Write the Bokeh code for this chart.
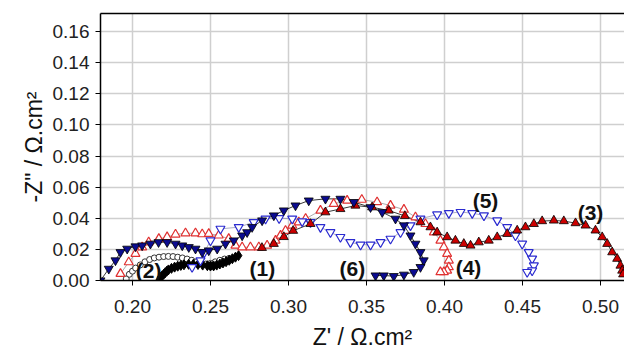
from bokeh.plotting import figure
from bokeh.models import Range1d, FixedTicker, NumeralTickFormatter, LinearAxis
from bokeh.core.properties import value
from bokeh.embed import file_html
from bokeh.resources import INLINE

# ---- data (Z' , -Z'') ----
s1_x = [0.217, 0.218, 0.219, 0.220, 0.221, 0.222, 0.223, 0.225, 0.227, 0.229, 0.231, 0.233, 0.236, 0.239, 0.242,
        0.245, 0.248, 0.250, 0.252, 0.254, 0.256, 0.258, 0.260, 0.262, 0.264, 0.266, 0.268]
s1_y = [0.000, 0.002, 0.003, 0.004, 0.005, 0.006, 0.0068, 0.0078, 0.0086, 0.0092, 0.0097, 0.0101, 0.0104, 0.0105, 0.0103,
        0.0099, 0.0095, 0.0093, 0.0094, 0.0099, 0.0106, 0.0113, 0.0121, 0.0130, 0.0140, 0.0150, 0.0160]

s2_x = [0.196, 0.198, 0.200, 0.202, 0.205, 0.208, 0.211, 0.214, 0.217, 0.220, 0.223, 0.226, 0.229, 0.232, 0.235,
        0.238, 0.241, 0.244, 0.247, 0.250, 0.253, 0.256, 0.259, 0.262]
s2_y = [0.001, 0.004, 0.006, 0.008, 0.010, 0.012, 0.0135, 0.0145, 0.015, 0.0154, 0.0155, 0.0154, 0.015, 0.0145, 0.0138,
        0.013, 0.012, 0.011, 0.0106, 0.011, 0.012, 0.013, 0.0138, 0.0142]

s3_x = [0.283, 0.2906, 0.297, 0.303, 0.3141, 0.3237, 0.3333, 0.3429, 0.3536, 0.3643, 0.3746, 0.3846, 0.391, 0.3953,
        0.4017, 0.407, 0.4124, 0.4167, 0.422, 0.4284, 0.4338, 0.4402, 0.4466, 0.4519, 0.4573, 0.4626, 0.4701, 0.4765,
        0.484, 0.4904, 0.4968, 0.5011, 0.5043, 0.5075, 0.5107, 0.5128, 0.5139, 0.5145]
s3_y = [0.021, 0.0236, 0.028, 0.032, 0.0364, 0.0439, 0.046, 0.0482, 0.0471, 0.045, 0.0415, 0.0375, 0.0343, 0.031,
        0.0279, 0.0257, 0.0236, 0.0225, 0.0246, 0.0257, 0.0279, 0.030, 0.0322, 0.0343, 0.0364, 0.0382, 0.0386, 0.0382,
        0.0369, 0.0354, 0.0322, 0.0279, 0.0236, 0.0182, 0.014, 0.0096, 0.0064, 0.004]

s4_x = [0.1923, 0.1976, 0.2019, 0.2062, 0.2104, 0.2169, 0.2222, 0.2276, 0.234, 0.2404, 0.2447, 0.2489, 0.2553,
        0.2617, 0.266, 0.2703, 0.2756, 0.281, 0.2863, 0.2917, 0.2949, 0.2981, 0.3024, 0.3066, 0.311, 0.3205, 0.329,
        0.3376, 0.347, 0.3568, 0.3654, 0.374, 0.3814, 0.3878, 0.3932, 0.3974, 0.3996, 0.4017, 0.4028, 0.4028, 0.4017,
        0.3996, 0.3974]
s4_y = [0.0043, 0.0118, 0.0172, 0.0214, 0.0246, 0.0268, 0.0279, 0.0296, 0.0304, 0.0304, 0.0298, 0.030, 0.029,
        0.0268, 0.0225, 0.0214, 0.0214, 0.0214, 0.0225, 0.0257, 0.0289, 0.032, 0.0354, 0.0375, 0.0397, 0.045, 0.0493,
        0.0514, 0.052, 0.0504, 0.0482, 0.0456, 0.0407, 0.0364, 0.031, 0.0257, 0.0214, 0.0172, 0.0129, 0.0086, 0.0064,
        0.0054, 0.0054]

s5_x = [0.2382, 0.2436, 0.246, 0.250, 0.2564, 0.2681, 0.2777, 0.2853, 0.294, 0.3024, 0.3088, 0.3141, 0.3205,
        0.3269, 0.3333, 0.3397, 0.3462, 0.3526, 0.359, 0.3654, 0.3718, 0.3782, 0.3846, 0.3953, 0.4028, 0.4103,
        0.4178, 0.4253, 0.4338, 0.4402, 0.4455, 0.4498, 0.454, 0.4562, 0.4573, 0.4562, 0.453]
s5_y = [0.0086, 0.0129, 0.018, 0.0257, 0.0332, 0.0343, 0.0375, 0.0397, 0.040, 0.0397, 0.0380, 0.0375, 0.0343,
        0.031, 0.0279, 0.0246, 0.023, 0.023, 0.0246, 0.0268, 0.031, 0.0354, 0.0397, 0.0424, 0.0433, 0.044,
        0.0433, 0.0418, 0.0386, 0.0343, 0.0289, 0.0236, 0.0182, 0.014, 0.0096, 0.0064, 0.0054]

s6_x = [0.1795, 0.1848, 0.1891, 0.1923, 0.1966, 0.2019, 0.2062, 0.2115, 0.2167, 0.2222, 0.2276, 0.2319, 0.2361,
        0.2404, 0.2447, 0.2489, 0.2543, 0.2596, 0.2649, 0.2703, 0.2735, 0.2767, 0.2831, 0.2906, 0.297, 0.3045,
        0.313, 0.3237, 0.3333, 0.3419, 0.3526, 0.3601, 0.3686, 0.374, 0.3782, 0.3814, 0.3846, 0.3867, 0.3846,
        0.3803, 0.374, 0.3675, 0.3611, 0.3558]
s6_y = [0.000, 0.0075, 0.0129, 0.0182, 0.0204, 0.0219, 0.0225, 0.0236, 0.0246, 0.0246, 0.0236, 0.0225, 0.0214,
        0.0204, 0.0182, 0.0193, 0.0204, 0.0236, 0.0257, 0.0289, 0.031, 0.0343, 0.0386, 0.0418, 0.045, 0.0482,
        0.0514, 0.0525, 0.0525, 0.0504, 0.0471, 0.0439, 0.0397, 0.0354, 0.0289, 0.0236, 0.0182, 0.0129, 0.0086,
        0.0054, 0.0037, 0.0028, 0.0032, 0.0032]

curve_labels = ["(1)", "(2)", "(3)", "(4)", "(5)", "(6)"]
label_x = [0.2833, 0.2103, 0.4936, 0.4154, 0.4263, 0.341]
label_y = [0.0077, 0.0064, 0.0437, 0.0084, 0.0514, 0.0077]

x_ticks = [0.20, 0.25, 0.30, 0.35, 0.40, 0.45, 0.50]
y_ticks = [0.00, 0.02, 0.04, 0.06, 0.08, 0.10, 0.12, 0.14, 0.16]

FONT = "Liberation Sans"

p = figure(width=624, height=352, output_backend="svg", toolbar_location=None,
           x_range=Range1d(0.1795, 0.5154), y_range=Range1d(0.0, 0.1717),
           min_border_left=100, min_border_right=0, min_border_top=13, min_border_bottom=72)
p.outline_line_color = None
p.background_fill_color = "white"

# grid
p.xgrid.ticker = FixedTicker(ticks=x_ticks)
p.ygrid.ticker = FixedTicker(ticks=y_ticks)
for g in (p.xgrid, p.ygrid):
    g.grid_line_color = "#cfcfcf"
    g.grid_line_width = 1.5

# axes
p.xaxis.ticker = FixedTicker(ticks=x_ticks)
p.yaxis.ticker = FixedTicker(ticks=y_ticks)
p.xaxis.formatter = NumeralTickFormatter(format="0.00")
p.yaxis.formatter = NumeralTickFormatter(format="0.00")
for ax in (p.xaxis, p.yaxis):
    ax.axis_line_color = "black"
    ax.axis_line_width = 1.5
    ax.major_tick_line_color = "black"
    ax.major_tick_in = 0
    ax.major_tick_out = 5
    ax.minor_tick_line_color = None
    ax.major_label_text_font = FONT
    ax.major_label_text_font_size = "19px"
    ax.major_label_text_color = "#222222"
    ax.axis_label_text_font = FONT
    ax.axis_label_text_font_size = "23px"
    ax.axis_label_text_font_style = "normal"
    ax.axis_label_text_color = "#111111"
p.xaxis.major_label_standoff = 14
p.yaxis.major_label_standoff = 6
p.yaxis.axis_label = '-Z" / \u03a9.cm\u00b2'
p.yaxis.axis_label_standoff = 3
p.xaxis.axis_label = "Z' / \u03a9.cm\u00b2"
p.xaxis.axis_label_standoff = 8

top = LinearAxis(axis_line_color="black", axis_line_width=1.5, major_tick_line_color=None,
                 minor_tick_line_color=None, major_label_text_font_size="0px",
                 ticker=FixedTicker(ticks=[]))
p.add_layout(top, "above")

# series
p.line(s6_x, s6_y, line_color="#222222", line_width=0.9)
p.line(s3_x, s3_y, line_color="#222222", line_width=0.9)
p.line(s4_x, s4_y, line_color="#888888", line_width=0.7)
p.line(s5_x, s5_y, line_color="#8888aa", line_width=0.7)

p.scatter(s2_x, s2_y, marker="circle", size=6, fill_color="white", line_color="#333333", line_width=1)
p.scatter(s1_x, s1_y, marker="diamond", size=10, fill_color="black", line_color="black")
p.scatter(s4_x, s4_y, marker="triangle", size=9, fill_color="white", line_color="#e03030", line_width=1.2)
p.scatter(s5_x, s5_y, marker="inverted_triangle", size=9, fill_color="white", line_color="#2a2ad0", line_width=1.2)
p.scatter(s3_x, s3_y, marker="triangle", size=9, fill_color="#cc0000", line_color="black", line_width=0.8)
p.scatter(s6_x, s6_y, marker="inverted_triangle", size=9, fill_color="#0b0b90", line_color="black", line_width=0.8)

p.text(label_x, label_y, text=curve_labels, text_align="center", text_baseline="middle",
       text_font=value(FONT), text_font_size="21px", text_font_style="bold", text_color="#111111")

open("out.html", "w").write(file_html(p, INLINE))
